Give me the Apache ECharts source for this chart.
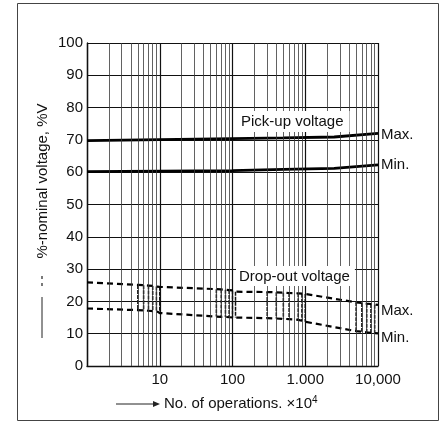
<!DOCTYPE html>
<html>
<head>
<meta charset="utf-8">
<script src="https://cdn.jsdelivr.net/npm/echarts@6/dist/echarts.min.js"></script>
<style>
html,body{margin:0;padding:0;background:#fff;}
#chart{width:448px;height:423px;}
</style>
</head>
<body>
<div id="chart"></div>
<script>
// ---- data ----
const xTickLabels = { 10: '10', 100: '100', 1000: '1.000', 10000: '10,000' };
const minorGrid = [2,3,4,5,6,7,8,9, 20,30,40,50,60,70,80,90, 200,300,400,500,600,700,800,900, 2000,3000,4000,5000,6000,7000,8000,9000];

const pickX   = [1, 100, 500, 2500, 10000];
const pickMax = [69.8, 70.4, 70.6, 70.9, 72.0];
const pickMin = [60.2, 60.5, 60.9, 61.2, 62.3];

const dropX   = [1,    5,    6,    7,    8,    9,    10,   60,   70,   80,   90,   100,  110,  300,  400,  500,  600,  800,  900,  1000, 5000, 6000, 7000, 8000, 9000, 10000];
const dropMax = [25.9, 25.1, 25.0, 24.9, 24.8, 24.6, 24.5, 23.8, 23.7, 23.6, 23.5, 23.4, 23.0, 22.9, 22.8, 22.7, 22.6, 22.5, 22.4, 22.3, 19.7, 19.5, 19.3, 19.2, 19.0, 18.9];
const dropMin = [17.8, 17.3, 17.2, 17.1, 17.0, 17.0, 16.4, 15.3, 15.2, 15.2, 15.1, 15.0, 15.0, 14.8, 14.7, 14.6, 14.5, 14.3, 14.0, 13.7, 10.8, 10.6, 10.4, 10.3, 10.2, 10.1];

const FONT = 'Liberation Sans, Arial, Helvetica, sans-serif';

const chart = echarts.init(document.getElementById('chart'), null, { renderer: 'canvas' });

const zip = (xs, ys) => xs.map((x, i) => [x, ys[i]]);
const segData = dropX.map((x, i) => [x, dropMax[i], dropMin[i]]).slice(1, -1);

const option = {
  animation: false,
  backgroundColor: '#fff',
  grid: { left: 87, top: 43, right: 70, bottom: 57, containLabel: false },
  xAxis: {
    type: 'log', logBase: 10, min: 1, max: 10000,
    axisLine: { show: true, lineStyle: { color: '#111', width: 1.4 } },
    axisTick: { show: false },
    axisLabel: {
      margin: 6, color: '#111', fontSize: 15, fontFamily: FONT,
      formatter: v => xTickLabels[Math.round(v)] || ''
    },
    splitLine: { show: true, lineStyle: { color: '#111', width: 1.2 } }
  },
  yAxis: {
    type: 'value', min: 0, max: 100, interval: 10,
    axisLine: { show: true, lineStyle: { color: '#111', width: 1.4 } },
    axisTick: { show: false },
    axisLabel: { margin: 4, color: '#111', fontSize: 15, fontFamily: FONT },
    splitLine: { show: true, lineStyle: { color: '#111', width: 1.2 } }
  },
  series: [
    {
      name: 'grid', type: 'line', data: [], silent: true,
      markLine: {
        silent: true, symbol: ['none', 'none'], animation: false,
        label: { show: false },
        lineStyle: { color: '#3a3a3a', width: 0.8, type: 'solid' },
        data: minorGrid.map(v => ({ xAxis: v }))
      }
    },
    {
      name: 'Pick-up Max', type: 'line', data: zip(pickX, pickMax),
      symbol: 'none', lineStyle: { color: '#000', width: 2.8 },
      endLabel: { show: true, formatter: 'Max.', color: '#111', fontSize: 15, fontFamily: FONT, distance: 3, offset: [0, 1] }
    },
    {
      name: 'Pick-up Min', type: 'line', data: zip(pickX, pickMin),
      symbol: 'none', lineStyle: { color: '#000', width: 2.8 },
      endLabel: { show: true, formatter: 'Min.', color: '#111', fontSize: 15, fontFamily: FONT, distance: 3, offset: [0, 0] }
    },
    {
      name: 'Drop-out Max', type: 'line', data: zip(dropX, dropMax),
      symbol: 'none', lineStyle: { color: '#000', width: 2.2, type: [6, 4] },
      endLabel: { show: true, formatter: 'Max.', color: '#111', fontSize: 15, fontFamily: FONT, distance: 3, offset: [0, 6] }
    },
    {
      name: 'Drop-out Min', type: 'line', data: zip(dropX, dropMin),
      symbol: 'none', lineStyle: { color: '#000', width: 2.2, type: [6, 4] },
      endLabel: { show: true, formatter: 'Min.', color: '#111', fontSize: 15, fontFamily: FONT, distance: 3, offset: [0, 4] }
    },
    {
      name: 'Drop-out range', type: 'custom', data: segData, silent: true,
      renderItem: (params, api) => {
        const p1 = api.coord([api.value(0), api.value(1)]);
        const p2 = api.coord([api.value(0), api.value(2)]);
        return { type: 'line', shape: { x1: p1[0], y1: p1[1], x2: p2[0], y2: p2[1] },
                 style: { stroke: '#111', lineWidth: 1.5, lineDash: [4, 1] } };
      }
    }
  ],
  graphic: [
    { type: 'rect', silent: true, shape: { x: 17.5, y: 3.5, width: 421, height: 417 },
      style: { fill: 'none', stroke: '#444', lineWidth: 1 } },
    { type: 'text', x: 238, y: 111, z: 100,
      style: { text: 'Pick-up voltage', font: '15px ' + FONT, fill: '#111',
               backgroundColor: '#fff', padding: [3, 6, 3, 3] } },
    { type: 'text', x: 236, y: 266, z: 100,
      style: { text: 'Drop-out voltage', font: '15px ' + FONT, fill: '#111',
               backgroundColor: '#fff', padding: [3, 5, 2, 3] } },
    { type: 'text', x: 43, y: 181, rotation: Math.PI / 2,
      style: { text: '%-nominal voltage, %V', font: '15px ' + FONT, fill: '#111',
               textAlign: 'center', textVerticalAlign: 'middle' } },
    { type: 'line', shape: { x1: 42, y1: 297, x2: 42, y2: 338 }, style: { stroke: '#222', lineWidth: 1 } },
    { type: 'line', shape: { x1: 42, y1: 276, x2: 42, y2: 290 }, style: { stroke: '#222', lineWidth: 1.2, lineDash: [3, 4] } },
    { type: 'line', shape: { x1: 116, y1: 404, x2: 156, y2: 404 }, style: { stroke: '#222', lineWidth: 1 } },
    { type: 'polygon', shape: { points: [[160, 404], [153, 401], [153, 407]] }, style: { fill: '#222' } },
    { type: 'text', x: 164, y: 404,
      style: { text: '{a|No. of operations. ×10}{s|4}', textVerticalAlign: 'middle', fill: '#111',
               rich: { a: { fontSize: 15, fontFamily: FONT, fill: '#111' },
                       s: { fontSize: 10, fontFamily: FONT, fill: '#111', verticalAlign: 'top', padding: [0, 0, 8, 0] } } } }
  ]
};
chart.setOption(option);
</script>
</body>
</html>
